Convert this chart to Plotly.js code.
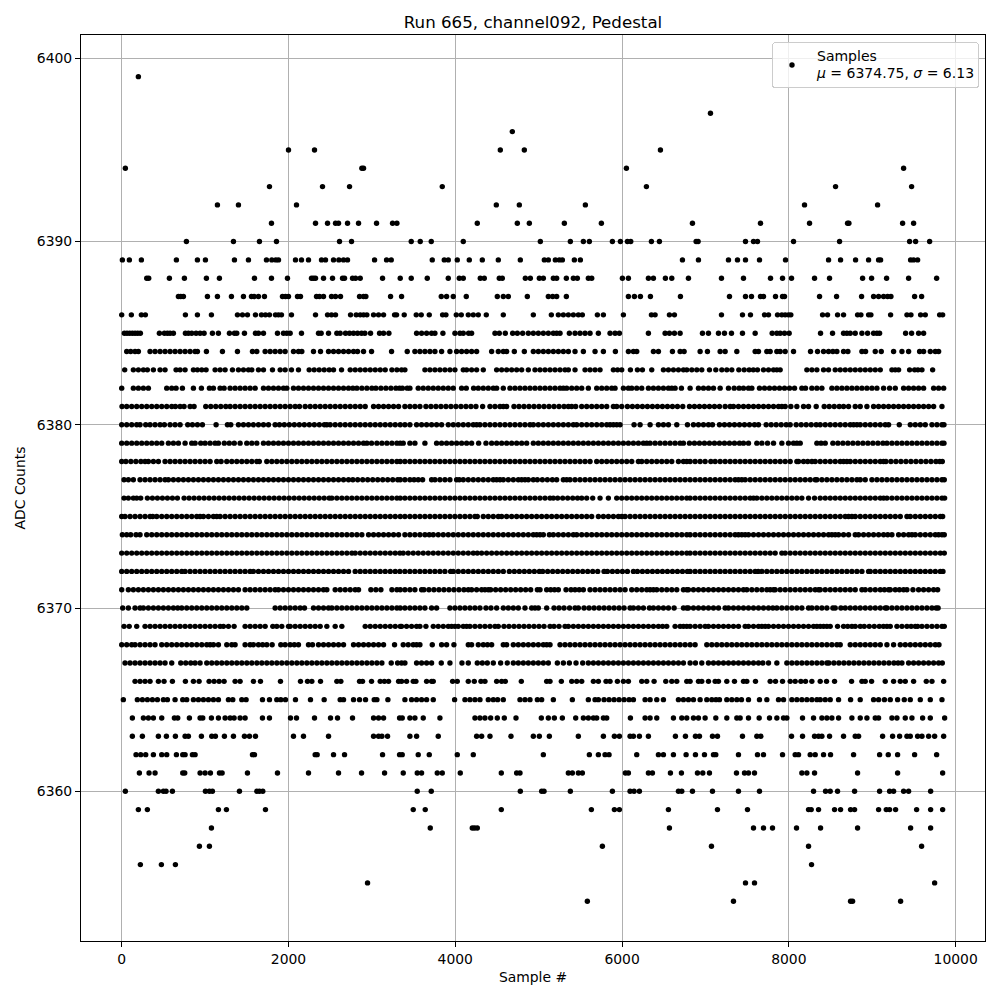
<!DOCTYPE html>
<html><head><meta charset="utf-8">
<script src="https://cdn.plot.ly/plotly-3.0.1.min.js"></script>
<style>html,body{margin:0;padding:0;background:#fff}#c{width:1000px;height:1000px}</style>
</head><body><div id="c"></div>
<script>
const s6399=[200];
const s6397=[7060];
const s6396=[4684];
const s6395=[2000,2312,4540,4828,6460];
const s6394=[44,2880,2900,6052,9376];
const s6393=[1772,2408,2732,3844,6292,8560,9472];
const s6392=[1148,1400,2096,4492,4768,5560,8188,9064];
const s6391=[1796,2324,2468,2564,2600,2708,2840,3056,3248,3300,4264,4744,4888,5308,5752,6844,7660,8248,8704,8720,9364,9496];
const s6390=[776,1340,1652,1856,2612,2756,3472,3580,3712,4096,5020,5380,5536,5608,5884,5980,6064,6104,6352,6448,6888,6912,7480,7576,7624,8056,8608,9448,9520,9688];
const s6389=[8,92,236,656,908,1004,1352,1520,1736,1800,1848,1880,2084,2156,2240,2396,2444,2540,2604,2660,2708,3032,3176,3232,3724,3868,3916,4024,4168,4324,4516,4780,5068,5116,5200,5248,5284,5428,5500,6724,6916,7276,7384,7480,7648,7960,8476,8620,8800,8956,9076,9100,9460,9496,9544];
const s6388=[300,324,572,752,1016,1172,1592,1796,1988,2276,2300,2324,2420,2528,2648,2672,2768,2804,2860,3128,3340,3472,3664,3916,4048,4096,4300,4348,4528,4564,4840,4900,5008,5056,5176,5216,5332,5416,5464,5596,5636,6004,6076,6316,6376,6520,6596,6796,7192,7456,7780,7924,8032,8308,8488,8884,8992,9172,9436,9772];
const s6387=[680,708,740,1028,1148,1316,1460,1556,1588,1640,1712,1928,1964,2000,2108,2144,2336,2372,2420,2516,2564,2624,2852,2900,2928,3224,3356,3832,3896,3976,4132,4504,4576,4636,4864,5116,5168,5216,5332,6076,6148,6220,6340,6700,7288,7480,7552,7660,7696,7840,7924,7948,8368,8572,8872,9016,9076,9136,9184,9224,9508,9592];
const s6386=[0,116,236,284,764,908,1076,1388,1448,1508,1604,1676,1724,1772,1844,1880,1916,2036,2324,2468,2516,2564,2744,2812,2860,2900,2940,3020,3080,3140,3272,3296,3388,3532,3592,3688,3848,3888,4012,4072,4156,4216,4276,4372,4576,4936,5152,5236,5296,5356,5416,5476,5524,5704,5776,6016,6352,6396,6568,6628,7192,7444,7540,7708,7756,7864,7916,7956,7996,8024,8404,8464,8584,8656,8824,8864,8956,8984,9220,9416,9464,9580,9636,9808,9844];
const s6385=[32,64,96,128,160,192,224,452,512,548,580,620,764,800,840,892,940,988,1088,1160,1292,1352,1380,1472,1604,1640,1700,1868,1940,1980,2020,2156,2360,2392,2480,2580,2620,2684,2732,2780,2828,2876,2916,2984,3092,3140,3204,3536,3596,3656,3716,3756,3852,3996,4056,4096,4160,4196,4476,4528,4600,4688,4744,4808,4876,4936,4996,5056,5116,5176,5216,5256,5368,5436,5496,5556,5616,5716,5856,5916,5968,6316,6516,6568,6628,6696,6964,7036,7156,7228,7312,7444,7596,7800,7856,7896,7948,8004,8380,8524,8656,8696,8736,8796,8876,8944,9016,9056,9088,9400,9472,9556,9616];
const s6384=[60,108,160,200,340,400,460,520,580,640,700,760,820,880,908,1016,1208,1388,1568,1620,1720,1780,1840,1900,1960,2060,2120,2160,2300,2384,2480,2540,2600,2660,2720,2780,2828,2900,2996,3236,3424,3516,3576,3636,3696,3756,3836,3936,4016,4076,4136,4196,4256,4436,4516,4576,4616,4708,4828,4936,4996,5056,5116,5176,5236,5296,5356,5436,5536,5676,5776,5920,6076,6136,6176,6376,6436,6604,6696,6744,6936,7024,7176,7236,7376,7596,7636,7736,7776,7856,7896,7956,8056,8260,8344,8416,8476,8528,8576,8656,8708,8876,8920,9036,9108,9256,9356,9436,9568,9616,9696,9756,9796];
const s6383=[36,140,200,260,308,380,460,520,652,700,760,860,908,960,1012,1120,1180,1240,1328,1400,1460,1520,1560,1640,1700,1808,1900,1960,2036,2120,2248,2308,2368,2428,2488,2540,2636,2740,2800,2860,2920,2980,3040,3100,3160,3240,3300,3356,3396,3636,3696,3756,3816,3876,3936,3996,4096,4136,4196,4256,4336,4496,4556,4616,4676,4736,4796,4876,4956,5016,5076,5136,5196,5256,5316,5356,5436,5556,5616,5676,5736,5896,5946,5996,6100,6184,6244,6356,6496,6556,6616,6676,6736,6776,6836,6896,6956,7048,7124,7196,7256,7316,7400,7464,7524,7574,7624,7696,7756,7816,7856,7896,8216,8276,8336,8416,8476,8556,8616,8676,8736,8796,8856,8916,8976,9036,9096,9236,9276,9316,9448,9508,9548,9596,9724];
const s6382=[0,140,200,260,320,540,600,652,728,860,956,1052,1100,1180,1228,1300,1360,1420,1480,1540,1600,1700,1760,1820,1880,1940,1980,2060,2120,2180,2240,2300,2360,2420,2480,2540,2600,2660,2720,2772,2820,2880,2940,3000,3048,3108,3168,3228,3288,3332,3366,3424,3456,3556,3616,3676,3736,3796,3856,3916,3976,4076,4132,4220,4276,4336,4396,4456,4496,4576,4656,4716,4776,4836,4896,4956,5016,5076,5136,5196,5256,5296,5336,5396,5456,5516,5596,5696,5756,5816,5876,5916,6016,6076,6116,6176,6236,6316,6376,6436,6496,6556,6596,6636,6712,6816,6916,6976,7036,7096,7176,7276,7344,7404,7456,7516,7556,7648,7708,7768,7828,7888,7948,8008,8068,8156,8200,8276,8336,8396,8516,8576,8636,8696,8756,8816,8876,8936,8996,9056,9136,9208,9276,9376,9436,9496,9556,9616,9736,9796,9856];
const s6381=[4,60,120,180,240,300,360,420,480,540,600,644,700,748,820,868,1008,1068,1128,1188,1248,1300,1360,1420,1480,1540,1600,1660,1720,1780,1840,1900,1960,2020,2080,2132,2200,2260,2320,2380,2440,2500,2560,2620,2680,2740,2800,2860,2920,3020,3080,3140,3200,3260,3320,3396,3456,3516,3576,3648,3708,3768,3828,3888,3948,4008,4068,4128,4188,4248,4328,4416,4476,4536,4576,4616,4704,4764,4824,4884,4944,5004,5064,5124,5184,5244,5304,5356,5396,5444,5516,5576,5636,5696,5756,5816,5896,5936,5996,6064,6124,6184,6244,6304,6364,6424,6484,6544,6604,6664,6728,6808,6868,6928,6988,7048,7108,7168,7236,7296,7336,7396,7456,7516,7576,7636,7696,7756,7816,7876,7916,7956,8024,8096,8176,8236,8328,8424,8484,8544,8604,8656,8716,8796,8856,8936,9016,9076,9136,9196,9256,9316,9376,9436,9496,9556,9616,9676,9736,9836];
const s6380=[0,60,120,180,220,288,340,400,460,512,580,640,700,792,848,908,968,1132,1268,1308,1400,1460,1520,1580,1640,1700,1760,1840,1892,1950,2010,2070,2130,2190,2250,2310,2370,2430,2460,2500,2560,2620,2680,2740,2800,2860,2920,2980,3040,3100,3160,3220,3280,3340,3396,3456,3536,3596,3656,3716,3776,3836,3916,3976,4036,4096,4156,4216,4256,4296,4356,4416,4476,4536,4596,4656,4716,4776,4836,4896,4936,4996,5056,5116,5176,5236,5296,5356,5416,5456,5516,5576,5636,5696,5756,5816,5856,5896,5936,5976,6144,6216,6336,6436,6496,6556,6656,6784,6856,6916,6976,7036,7084,7168,7228,7288,7348,7408,7468,7528,7588,7636,7728,7788,7848,7908,7968,8016,8088,8148,8208,8268,8328,8376,8436,8496,8556,8616,8676,8736,8776,8816,8856,8916,8976,9036,9096,9156,9196,9324,9456,9516,9576,9636,9716,9776,9836,9860];
const s6379=[0,60,120,180,240,300,360,420,480,560,620,680,760,840,880,948,1000,1060,1120,1160,1230,1290,1350,1420,1500,1560,1620,1700,1760,1820,1880,1940,2000,2060,2120,2180,2240,2300,2360,2420,2480,2540,2600,2660,2720,2780,2840,2900,2940,2996,3060,3120,3180,3240,3300,3340,3376,3456,3516,3636,3776,3836,3896,3956,4016,4076,4136,4196,4280,4368,4436,4496,4556,4616,4676,4736,4796,4856,4936,4996,5056,5116,5176,5236,5296,5356,5416,5476,5536,5596,5656,5716,5776,5836,5896,5956,6016,6076,6136,6196,6256,6296,6336,6396,6456,6516,6576,6636,6696,6736,6808,6868,6928,6988,7048,7108,7168,7228,7288,7348,7408,7456,7516,7616,7676,7744,7816,7916,7996,8056,8096,8136,8336,8386,8436,8528,8588,8648,8708,8768,8828,8888,8948,9008,9068,9128,9176,9236,9296,9356,9416,9476,9536,9596,9656,9716,9776,9836,9860];
const s6378=[0,50,110,170,230,280,320,380,440,520,580,640,700,760,820,880,940,1000,1060,1140,1192,1260,1320,1380,1440,1500,1560,1620,1650,1740,1800,1860,1920,1980,2040,2100,2160,2220,2280,2340,2400,2460,2520,2580,2640,2700,2760,2820,2880,2940,3000,3060,3120,3180,3240,3300,3340,3396,3456,3516,3576,3636,3696,3756,3816,3876,3936,3996,4056,4116,4176,4236,4296,4356,4416,4476,4536,4596,4656,4716,4776,4836,4896,4956,5016,5076,5136,5196,5256,5316,5376,5436,5496,5556,5616,5696,5756,5816,5876,5936,5996,6056,6116,6196,6236,6296,6356,6416,6476,6536,6596,6676,6736,6776,6816,6876,6936,6996,7064,7116,7176,7236,7296,7356,7416,7476,7536,7596,7656,7716,7776,7836,7896,7956,8016,8096,8116,8176,8226,8276,8316,8376,8436,8496,8556,8616,8656,8696,8736,8796,8856,8916,8976,9036,9096,9136,9164,9224,9284,9344,9404,9464,9524,9584,9644,9704,9764,9810,9840];
const s6377=[28,80,140,220,280,340,400,460,520,560,620,680,740,800,860,920,980,1040,1100,1160,1220,1280,1340,1400,1460,1520,1580,1640,1700,1760,1820,1880,1940,2000,2060,2120,2180,2240,2300,2360,2420,2480,2540,2600,2660,2720,2772,2830,2890,2950,3010,3070,3130,3190,3250,3310,3340,3396,3456,3506,3556,3608,3716,3756,3816,3876,3936,4016,4048,4096,4156,4216,4276,4336,4396,4456,4496,4536,4576,4636,4696,4756,4796,4836,4876,4936,4984,5044,5104,5164,5216,5296,5336,5376,5436,5496,5556,5616,5676,5736,5796,5856,5916,5976,6036,6096,6156,6216,6276,6336,6396,6456,6516,6576,6636,6696,6756,6816,6876,6936,6996,7056,7116,7176,7236,7296,7356,7396,7436,7476,7536,7596,7656,7716,7776,7836,7896,7956,8016,8076,8136,8196,8256,8316,8336,8396,8456,8516,8576,8636,8696,8756,8816,8856,8916,8996,9056,9116,9176,9236,9296,9356,9416,9476,9536,9596,9656,9716,9776,9836,9864];
const s6376=[28,80,140,180,228,308,368,428,488,548,608,668,748,808,868,928,988,1048,1108,1168,1228,1288,1348,1408,1468,1528,1588,1648,1708,1768,1828,1888,1948,2008,2068,2128,2188,2248,2308,2368,2428,2488,2520,2580,2640,2700,2760,2820,2880,2940,3000,3060,3120,3180,3240,3300,3340,3396,3456,3516,3576,3636,3696,3756,3816,3876,3936,3996,4056,4116,4176,4236,4296,4356,4416,4476,4536,4596,4656,4716,4776,4836,4896,4956,5016,5076,5136,5176,5228,5288,5348,5408,5466,5516,5576,5648,5736,5836,5936,5996,6056,6116,6176,6236,6296,6356,6416,6476,6536,6596,6656,6716,6776,6816,6876,6936,6996,7056,7116,7176,7236,7296,7356,7416,7476,7536,7576,7616,7676,7736,7796,7856,7916,7976,8036,8096,8156,8236,8308,8376,8436,8496,8556,8616,8676,8736,8796,8856,8916,8976,9036,9096,9136,9176,9236,9296,9356,9416,9476,9536,9596,9656,9716,9776,9836,9868];
const s6375=[0,40,100,160,220,280,340,372,420,480,540,600,660,720,780,840,900,940,980,1040,1100,1140,1180,1240,1300,1360,1420,1480,1540,1600,1660,1720,1780,1840,1900,1960,2020,2080,2140,2200,2260,2320,2380,2440,2500,2560,2620,2680,2740,2800,2860,2920,2980,3040,3100,3160,3220,3280,3340,3396,3456,3516,3576,3636,3696,3756,3816,3876,3936,3996,4056,4116,4176,4236,4264,4336,4396,4456,4516,4556,4616,4676,4736,4796,4856,4916,4976,5036,5096,5156,5216,5276,5336,5396,5456,5516,5576,5636,5716,5776,5836,5896,5956,5996,6036,6096,6156,6216,6276,6336,6396,6456,6516,6576,6636,6696,6756,6816,6876,6936,6996,7056,7116,7176,7236,7296,7356,7416,7476,7536,7596,7656,7716,7776,7836,7896,7956,8016,8076,8136,8196,8256,8316,8376,8436,8496,8556,8616,8676,8716,8756,8796,8856,8916,8976,9036,9096,9156,9216,9276,9336,9416,9456,9516,9576,9636,9696,9756,9816,9844];
const s6374=[8,60,108,172,220,300,360,420,480,540,600,660,720,780,840,900,960,1020,1080,1140,1200,1260,1320,1380,1440,1500,1560,1620,1680,1740,1800,1860,1920,1980,2040,2100,2160,2220,2280,2340,2400,2460,2520,2580,2640,2700,2760,2820,2880,2960,3020,3080,3140,3200,3260,3320,3396,3456,3516,3576,3636,3688,3736,3796,3856,3916,3976,4036,4096,4156,4216,4276,4336,4396,4456,4516,4576,4636,4696,4756,4816,4876,4936,4976,5016,5056,5128,5176,5236,5296,5356,5416,5456,5516,5576,5636,5696,5756,5816,5876,5936,5996,6056,6116,6176,6236,6296,6356,6416,6476,6536,6596,6656,6716,6776,6816,6876,6936,6996,7056,7116,7176,7236,7296,7356,7396,7436,7476,7516,7576,7636,7696,7756,7816,7876,7936,7996,8056,8116,8176,8236,8296,8356,8416,8476,8516,8556,8596,8656,8716,8796,8836,8896,8956,9016,9076,9136,9186,9236,9316,9376,9436,9476,9516,9576,9636,9696,9756,9796,9836,9864];
const s6373=[0,60,120,180,240,300,360,420,480,540,600,660,720,780,840,900,960,1020,1080,1140,1200,1260,1320,1380,1440,1500,1560,1620,1680,1740,1800,1860,1920,1980,2040,2100,2160,2220,2280,2340,2400,2460,2520,2580,2640,2700,2760,2800,2860,2920,2980,3040,3100,3160,3220,3280,3336,3376,3436,3496,3556,3616,3676,3736,3796,3856,3916,3976,4036,4096,4156,4216,4264,4316,4376,4436,4496,4556,4616,4676,4736,4796,4856,4916,4976,5036,5096,5156,5216,5276,5336,5396,5456,5516,5576,5636,5696,5756,5816,5876,5936,5996,6056,6116,6176,6236,6296,6356,6416,6476,6536,6596,6656,6716,6776,6816,6876,6936,6996,7056,7116,7176,7236,7296,7356,7416,7476,7536,7596,7656,7716,7776,7836,7916,7956,8016,8076,8136,8196,8256,8316,8376,8436,8496,8556,8616,8676,8736,8796,8856,8916,8976,9036,9096,9156,9216,9276,9336,9396,9456,9516,9576,9636,9696,9756,9816,9864];
const s6372=[0,60,120,180,240,300,360,420,480,540,600,660,720,760,820,880,940,1000,1060,1120,1180,1240,1300,1360,1420,1480,1540,1580,1640,1700,1760,1820,1880,1940,2000,2060,2120,2180,2240,2300,2360,2420,2480,2540,2600,2660,2720,2800,2860,2920,2980,3040,3100,3160,3220,3280,3336,3396,3456,3516,3576,3636,3696,3756,3816,3876,3944,3976,4036,4096,4156,4216,4276,4336,4396,4456,4516,4576,4648,4708,4768,4828,4888,4948,5008,5048,5108,5168,5228,5288,5348,5408,5468,5528,5588,5648,5708,5784,5824,5884,5944,6004,6064,6136,6184,6244,6304,6364,6424,6484,6544,6604,6664,6724,6784,6816,6876,6936,6996,7056,7116,7176,7236,7296,7356,7416,7476,7536,7596,7632,7676,7736,7796,7856,7916,7976,8036,8096,8156,8216,8276,8336,8396,8456,8516,8576,8636,8696,8756,8816,8876,8956,8976,9036,9096,9156,9216,9276,9336,9396,9456,9516,9576,9636,9696,9756,9816,9848];
const s6371=[0,80,140,200,260,320,380,440,500,560,620,680,740,800,860,920,980,1040,1100,1160,1220,1280,1340,1400,1480,1540,1600,1660,1720,1780,1840,1880,1940,2000,2060,2120,2180,2240,2300,2360,2420,2460,2560,2620,2680,2740,2800,2840,2988,3048,3108,3240,3300,3340,3396,3456,3516,3596,3624,3684,3744,3804,3864,3924,3984,4044,4104,4156,4196,4256,4316,4356,4396,4424,4484,4544,4604,4664,4724,4784,4844,4904,4984,5016,5096,5144,5190,5236,5328,5388,5436,5486,5536,5616,5676,5736,5796,5856,5916,5976,6036,6116,6176,6236,6296,6336,6376,6416,6476,6536,6596,6656,6736,6776,6796,6856,6916,6976,7036,7096,7156,7216,7276,7336,7396,7456,7496,7556,7616,7676,7736,7776,7816,7836,7896,7956,8016,8076,8136,8196,8256,8316,8356,8376,8436,8496,8556,8616,8676,8736,8796,8876,8916,8976,9036,9096,9146,9196,9216,9276,9326,9376,9416,9488,9556,9616,9676,9736,9784];
const s6370=[12,80,160,220,260,320,380,440,500,560,620,672,720,780,840,900,960,1020,1080,1140,1200,1260,1320,1380,1440,1500,1840,1900,1960,2020,2080,2140,2192,2300,2360,2420,2480,2520,2580,2640,2700,2760,2820,2880,2940,3000,3060,3120,3180,3240,3300,3340,3396,3456,3516,3576,3636,3716,3776,3936,3996,4056,4116,4176,4236,4296,4368,4428,4496,4576,4636,4696,4756,4836,4916,4956,4996,5096,5184,5244,5304,5370,5436,5476,5544,5604,5664,5724,5784,5844,5904,5964,6024,6096,6136,6196,6256,6328,6376,6436,6496,6556,6624,6736,6776,6796,6856,6916,6976,7036,7096,7156,7236,7276,7336,7396,7456,7516,7576,7636,7696,7756,7808,7856,7916,7976,8036,8096,8156,8236,8276,8336,8396,8456,8528,8556,8624,8676,8736,8796,8856,8916,8976,9036,9096,9156,9176,9236,9296,9356,9416,9476,9536,9596,9656,9716,9766,9790];
const s6369=[28,90,180,280,340,400,460,520,580,640,700,760,820,880,940,1000,1060,1120,1180,1220,1280,1348,1480,1540,1600,1660,1720,1812,1860,1920,2000,2020,2080,2140,2200,2260,2320,2380,2460,2560,2640,2920,2980,3040,3100,3160,3220,3280,3340,3356,3416,3476,3536,3576,3648,3736,3796,3856,3916,3956,3996,4036,4096,4136,4176,4236,4296,4356,4416,4476,4516,4584,4644,4704,4764,4824,4884,4944,5004,5064,5136,5184,5244,5316,5356,5416,5476,5536,5596,5656,5716,5776,5836,5896,5956,6016,6076,6136,6196,6256,6316,6376,6436,6486,6536,6636,6696,6736,6776,6816,6876,6936,6996,7036,7096,7156,7216,7276,7336,7396,7476,7516,7576,7636,7676,7716,7756,7816,7876,7936,7996,8056,8116,8176,8236,8296,8336,8376,8416,8456,8496,8584,8656,8706,8756,8796,8856,8904,8964,9024,9084,9134,9176,9216,9296,9356,9416,9466,9516,9544,9596,9656,9716,9776,9836,9864];
const s6368=[0,60,120,160,220,280,340,400,480,540,600,660,720,780,840,900,960,1020,1060,1100,1160,1260,1320,1360,1480,1540,1580,1640,1690,1740,1804,1908,1960,2020,2070,2120,2240,2288,2360,2420,2480,2540,2600,2660,2780,2840,2900,2960,3020,3080,3140,3272,3376,3436,3496,3536,3576,3724,3836,3896,3984,4156,4196,4276,4336,4386,4436,4576,4616,4696,4756,4816,4876,4936,4996,5056,5096,5136,5256,5316,5376,5436,5496,5556,5616,5676,5736,5796,5856,5916,5976,6036,6096,6156,6216,6276,6336,6396,6456,6516,6576,6636,6696,6756,6816,6876,7016,7076,7136,7196,7256,7316,7376,7436,7496,7556,7616,7676,7736,7796,7856,7916,7976,8036,8096,8156,8216,8276,8336,8396,8456,8516,8576,8616,8736,8796,8856,8916,8976,9036,9096,9176,9256,9336,9396,9456,9516,9576,9636,9696,9756,9800];
const s6367=[40,100,160,220,280,340,400,460,520,600,708,768,828,880,940,1020,1080,1140,1200,1260,1320,1380,1440,1500,1560,1620,1680,1740,1800,1860,1920,1980,2040,2100,2160,2220,2280,2340,2400,2460,2520,2580,2640,2700,2760,2820,2880,2940,3000,3060,3120,3232,3308,3356,3396,3536,3596,3656,3716,3832,3936,4080,4156,4264,4324,4384,4456,4544,4624,4696,4756,4816,4876,4936,4996,5056,5116,5224,5296,5368,5448,5528,5596,5656,5716,5776,5836,5896,5956,6016,6076,6136,6196,6256,6316,6376,6436,6496,6556,6616,6676,6736,6816,6880,6956,7036,7096,7156,7216,7276,7336,7396,7456,7516,7576,7636,7688,7756,7856,7976,8036,8096,8156,8216,8276,8336,8396,8456,8480,8540,8600,8660,8720,8780,8840,8900,8960,9020,9080,9140,9200,9260,9310,9356,9436,9496,9556,9616,9676,9736,9796,9840];
const s6366=[160,220,280,340,440,508,608,764,860,928,1048,1108,1168,1228,1360,1420,1580,1664,1904,2144,2228,2280,2384,2580,2628,2852,2888,2996,3100,3150,3200,3320,3356,3416,3496,3528,3656,3716,3736,3968,4024,4156,4228,4308,4356,4496,4556,4600,4792,5096,5136,5272,5396,5456,5516,5656,5716,5808,5856,5944,6016,6076,6236,6296,6384,6524,6596,6656,6776,6816,6916,6956,7036,7116,7156,7256,7348,7456,7496,7600,7776,7840,7924,8016,8076,8144,8200,8276,8376,8452,8548,8752,8876,8916,8992,9156,9256,9336,9396,9496,9648,9716,9856];
const s6365=[20,188,248,308,368,428,500,548,640,732,780,860,920,980,1040,1100,1160,1280,1332,1440,1492,1688,1772,1860,1908,1964,2084,2264,2428,2620,2660,2780,2852,2924,3028,3060,3192,3396,3476,3536,3596,3656,3736,3992,4116,4176,4236,4296,4396,4456,4508,4576,4776,4836,4896,4984,5036,5176,5404,5596,5676,5716,5784,5844,5904,5964,6024,6084,6136,6276,6336,6416,6496,6676,6736,6796,6856,6936,7016,7076,7126,7168,7256,7316,7376,7432,7516,7648,7736,7876,7936,8036,8096,8156,8216,8276,8336,8376,8436,8496,8596,8740,8856,9016,9076,9146,9216,9304,9384,9456,9576,9696,9836];
const s6364=[128,260,320,380,480,632,672,812,940,972,1076,1160,1240,1300,1348,1420,1480,1688,1772,2024,2096,2312,2504,2588,2768,3020,3080,3140,3332,3364,3456,3516,3616,3816,4236,4296,4356,4424,4504,4588,4728,5032,5116,5188,5284,5444,5536,5596,5656,5696,5776,5816,6100,6276,6336,6416,6616,6716,6776,6856,6916,6996,7124,7256,7376,7416,7516,7644,7768,7856,7936,7976,8164,8296,8396,8456,8516,8596,8756,8856,8936,9036,9076,9236,9296,9396,9476,9604,9696,9868];
const s6363=[128,248,440,536,644,760,800,956,1080,1124,1232,1340,1472,1532,1604,2060,2180,2480,3020,3080,3120,3188,3456,3536,3796,4256,4316,4416,4668,4936,5008,5128,5476,5776,5908,5968,6096,6136,6208,6316,6640,6760,6880,6928,7084,7144,7444,7616,7664,8032,8164,8308,8356,8396,8488,8656,8796,8836,9124,9244,9328,9416,9456,9544,9596,9676,9748,9856];
const s6362=[172,228,288,380,480,540,656,732,760,848,880,1568,1592,2320,2344,2540,2672,3128,3332,3364,3556,3688,4024,4216,5056,5608,5716,5796,5844,6176,6436,6496,6616,6768,6880,6988,7096,7124,7396,7624,7696,7924,8076,8116,8256,8316,8416,8500,8776,9088,9192,9304,9508,9772];
const s6361=[212,328,400,732,756,940,1000,1064,1172,1204,1508,1868,2240,2600,2876,3152,3376,3544,3596,3784,3844,4060,4552,4736,4776,5356,5404,5476,5524,6040,6076,6316,6364,6580,6712,6904,6968,7048,7372,7468,7516,7588,8156,8216,8308,8824,9304,9844];
const s6360=[44,440,500,532,608,1004,1052,1088,1412,1620,1652,1692,3544,3712,4780,5036,5064,5380,5884,6096,6144,6208,6676,6716,6844,7084,7396,7648,8296,8440,8496,8584,8788,9088,9208,9256,9376,9436,9700];
const s6359=[200,308,1160,1256,1724,3496,3640,4552,5632,5908,5968,6556,7144,7504,8236,8268,8356,8548,8620,8740,8788,9076,9168,9208,9280,9532,9700,9844];
const s6358=[1076,3700,4204,4232,4264,6568,7576,7696,7804,8092,8380,8824,9460,9700];
const s6357=[932,1052,5764,7072,8236,9592];
const s6356=[224,476,644,8272];
const s6355=[2948,7480,7588,9748];
const s6354=[5584,7336,8740,8764,9340];

const levels=[[6399,s6399],[6397,s6397],[6396,s6396],[6395,s6395],[6394,s6394],[6393,s6393],[6392,s6392],[6391,s6391],[6390,s6390],[6389,s6389],[6388,s6388],[6387,s6387],[6386,s6386],[6385,s6385],[6384,s6384],[6383,s6383],[6382,s6382],[6381,s6381],[6380,s6380],[6379,s6379],[6378,s6378],[6377,s6377],[6376,s6376],[6375,s6375],[6374,s6374],[6373,s6373],[6372,s6372],[6371,s6371],[6370,s6370],[6369,s6369],[6368,s6368],[6367,s6367],[6366,s6366],[6365,s6365],[6364,s6364],[6363,s6363],[6362,s6362],[6361,s6361],[6360,s6360],[6359,s6359],[6358,s6358],[6357,s6357],[6356,s6356],[6355,s6355],[6354,s6354]];
const xs=[],ys=[];
levels.forEach(([lvl,arr])=>arr.forEach(v=>{xs.push(v);ys.push(lvl);}));

const F='"DejaVu Sans", sans-serif';
Plotly.newPlot('c',[{
  type:'scatter',mode:'markers',x:xs,y:ys,
  name:'Samples<br><i>μ</i> = 6374.75, <i>σ</i> = 6.13',
  marker:{color:'#000',size:5.4,line:{width:0}},showlegend:true
}],{
  width:1000,height:1000,
  margin:{l:81,r:15,t:35,b:59,pad:0},
  paper_bgcolor:'#fff',plot_bgcolor:'#fff',
  font:{family:F,size:13.9,color:'#000'},
  title:{text:'Run 665, channel092, Pedestal',font:{family:F,size:16.67,color:'#000'},x:0.533,xanchor:'center',y:0.978,yanchor:'middle',yref:'container'},
  xaxis:{range:[-488,10352],tickmode:'linear',tick0:0,dtick:2000,showgrid:true,gridcolor:'#b0b0b0',gridwidth:1,zeroline:false,
    showline:true,linecolor:'#000',linewidth:1,mirror:true,ticks:'outside',ticklen:5,tickwidth:1,tickcolor:'#000',tickformat:'d',
    title:{text:'Sample #',standoff:6,font:{family:F,size:13.9}}},
  yaxis:{range:[6351.83,6401.273],tickmode:'linear',tick0:6360,dtick:10,showgrid:true,gridcolor:'#b0b0b0',gridwidth:1,zeroline:false,
    showline:true,linecolor:'#000',linewidth:1,mirror:true,ticks:'outside',ticklen:5,tickwidth:1,tickcolor:'#000',tickformat:'d',
    title:{text:'ADC Counts',standoff:7,font:{family:F,size:13.9}}},
  legend:{x:0.9925,xanchor:'right',y:0.9925,yanchor:'top',bgcolor:'rgba(255,255,255,0.8)',bordercolor:'#ccc',borderwidth:1,font:{family:F,size:14}},
  showlegend:true
},{displayModeBar:false,staticPlot:true}).then(()=>{
  const leg=document.querySelector('.legend');
  if(!leg)return;
  leg.setAttribute('transform','translate(772,42)');
  const bg=leg.querySelector('.bg');
  if(bg){bg.setAttribute('width','206');bg.setAttribute('height','45');bg.setAttribute('rx','3');bg.setAttribute('ry','3');}
  const clip=document.querySelector('[id^="legend"] rect');
  if(clip){clip.setAttribute('width','206');clip.setAttribute('height','45');}
  const txt=leg.querySelector('.legendtext');
  if(txt){
    txt.setAttribute('x','45');txt.setAttribute('y','-5');
    txt.querySelectorAll('tspan.line').forEach((t,i)=>{t.setAttribute('x','45');if(i>0)t.setAttribute('dy','1.17em');});
  }
  const pts=leg.querySelector('.legendpoints');
  if(pts)pts.setAttribute('transform','translate(0,0)');
  const tr=leg.querySelector('.traces');
  if(tr)tr.setAttribute('transform','translate(0,23)');
});
</script></body></html>
